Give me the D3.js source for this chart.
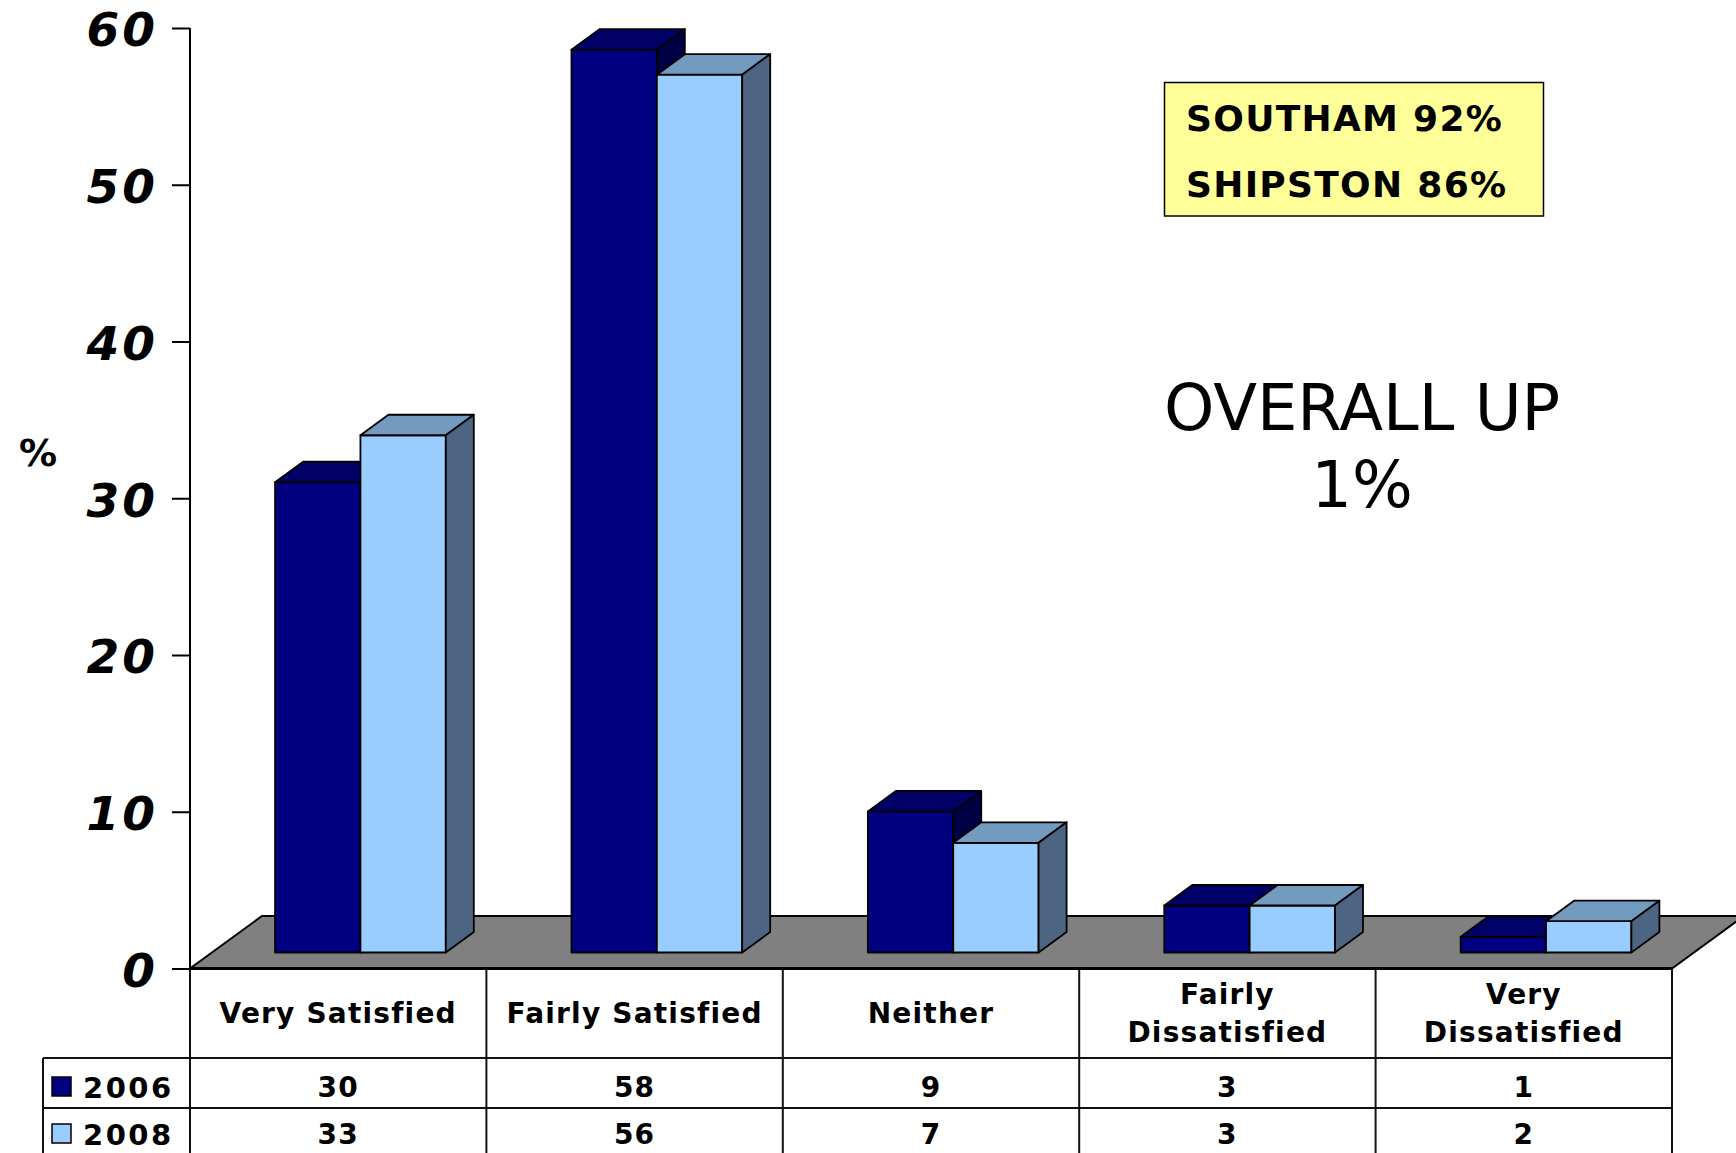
<!DOCTYPE html>
<html>
<head>
<meta charset="utf-8">
<script src="https://cdn.jsdelivr.net/npm/d3@7"></script>
<style>
body { margin: 0; background: #fff; }
svg text { font-family: "DejaVu Sans", Verdana, sans-serif; fill: #000; }
</style>
</head>
<body>
<svg id="chart" width="1736" height="1153"></svg>
<script>
// chart data
var categories = ["Very Satisfied", "Fairly Satisfied", "Neither", "Fairly Dissatisfied", "Very Dissatisfied"];
var headerLines = [["Very Satisfied"], ["Fairly Satisfied"], ["Neither"], ["Fairly", "Dissatisfied"], ["Very", "Dissatisfied"]];
var years = ["2006", "2008"];
var values2006 = [30, 57.6, 9, 3, 1];
var values2008 = [33, 56, 7, 3, 2];
var yTicks = [0, 10, 20, 30, 40, 50, 60];
var boxLines = ["SOUTHAM 92%", "SHIPSTON 86%"];
var noteLines = ["OVERALL UP", "1%"];

var series = [values2006, values2008];
var shades = [
    { front: "#000080", top: "#000066", side: "#000045" },
    { front: "#99ccff", top: "#739abf", side: "#4d6482" }
];

var svg = d3.select("#chart");
var x = d3.scaleBand().domain(categories).range([190, 1672]);
var y = d3.scaleLinear().domain([0, 60]).range([968.5, 28]);
var bw = x.bandwidth();
var y0 = y(0);

// floor depth and bar depth (oblique projection)
var floorDx = 72, floorDy = 52.5;
var barLift = 16, barDx = 28, barDy = 20.5;

var line = function(pts) { return "M" + pts.map(function(p) { return p.join(","); }).join("L") + "Z"; };

svg.append("path")
    .attr("d", line([[x.range()[0], y0], [x.range()[1], y0], [x.range()[1] + floorDx, y0 - floorDy], [x.range()[0] + floorDx, y0 - floorDy]]))
    .attr("fill", "#808080")
    .attr("stroke", "#000")
    .attr("stroke-width", 2);

// bars
categories.forEach(function(cat, i) {
    series.forEach(function(vals, s) {
        var w = bw * 0.288;
        var x0 = x(cat) + bw * 0.287 + s * w;
        var x1 = x0 + w;
        var yt = y(vals[i]) - barLift;
        var yb = y0 - barLift;
        var g = svg.append("g")
            .attr("stroke", "#000")
            .attr("stroke-width", 1.8)
            .attr("stroke-linejoin", "round");
        g.append("path").attr("d", line([[x0, yt], [x1, yt], [x1, yb], [x0, yb]])).attr("fill", shades[s].front);
        g.append("path").attr("d", line([[x0, yt], [x1, yt], [x1 + barDx, yt - barDy], [x0 + barDx, yt - barDy]])).attr("fill", shades[s].top);
        g.append("path").attr("d", line([[x1, yt], [x1 + barDx, yt - barDy], [x1 + barDx, yb - barDy], [x1, yb]])).attr("fill", shades[s].side);
    });
});

// y axis
var axis = svg.append("g")
    .attr("transform", "translate(190,0)")
    .call(d3.axisLeft(y).tickValues(yTicks).tickSize(18).tickSizeOuter(0).tickPadding(14));
axis.select(".domain").remove();
axis.selectAll(".tick line").attr("stroke", "#000").attr("stroke-width", 2);
axis.selectAll(".tick text")
    .attr("dy", "0.38em")
    .style("font-size", "47px")
    .style("font-weight", "bold")
    .style("font-style", "italic")
    .style("letter-spacing", "3px");

svg.append("line")
    .attr("x1", 190).attr("x2", 190)
    .attr("y1", y(60)).attr("y2", 1153)
    .attr("stroke", "#000").attr("stroke-width", 2);

svg.append("text")
    .attr("x", 38).attr("y", 466)
    .attr("text-anchor", "middle")
    .style("font-size", "38px")
    .style("font-weight", "bold")
    .text("%");

// data table under the chart
var rowTops = [1058, 1108];
var rowBase = [1097, 1144];
var tableLines = svg.append("g").attr("stroke", "#111").attr("stroke-width", 2);
categories.concat([null]).forEach(function(cat) {
    var xx = cat ? x(cat) : x.range()[1];
    tableLines.append("line").attr("x1", xx).attr("x2", xx).attr("y1", y0).attr("y2", 1153);
});
tableLines.append("line").attr("x1", 43).attr("x2", 43).attr("y1", rowTops[0]).attr("y2", 1153);
rowTops.forEach(function(t) {
    tableLines.append("line").attr("x1", 43).attr("x2", x.range()[1]).attr("y1", t).attr("y2", t);
});
svg.append("line")
    .attr("x1", x.range()[0]).attr("x2", x.range()[1])
    .attr("y1", y0).attr("y2", y0)
    .attr("stroke", "#000").attr("stroke-width", 3);

var cellText = function(sel) {
    return sel.attr("text-anchor", "middle")
        .style("font-size", "28px")
        .style("font-weight", "bold")
        .style("letter-spacing", "1.2px");
};

categories.forEach(function(cat, i) {
    var cx = x(cat) + bw / 2;
    var ls = headerLines[i];
    ls.forEach(function(t, j) {
        cellText(svg.append("text"))
            .attr("x", cx)
            .attr("y", 1023 + (j - (ls.length - 1) / 2) * 38)
            .text(t);
    });
    series.forEach(function(vals, s) {
        cellText(svg.append("text"))
            .attr("x", cx)
            .attr("y", rowBase[s])
            .text(d3.format(".0f")(vals[i]));
    });
});

years.forEach(function(yr, s) {
    svg.append("rect")
        .attr("x", 52).attr("y", rowBase[s] - 20)
        .attr("width", 19).attr("height", 19)
        .attr("fill", shades[s].front)
        .attr("stroke", "#000").attr("stroke-width", 1.5);
    svg.append("text")
        .attr("x", 83).attr("y", rowBase[s] + 1)
        .style("font-size", "29px")
        .style("font-weight", "bold")
        .style("letter-spacing", "2.5px")
        .text(yr);
});

// annotation box
svg.append("rect")
    .attr("x", 1164.5).attr("y", 82.5)
    .attr("width", 379).attr("height", 133.5)
    .attr("fill", "#ffff99")
    .attr("stroke", "#000").attr("stroke-width", 1.5);
boxLines.forEach(function(t, i) {
    svg.append("text")
        .attr("x", 1186).attr("y", 131 + i * 66)
        .style("font-size", "36px")
        .style("font-weight", "bold")
        .style("letter-spacing", "1.3px")
        .text(t);
});

noteLines.forEach(function(t, i) {
    svg.append("text")
        .attr("x", 1362).attr("y", 430 + i * 77)
        .attr("text-anchor", "middle")
        .style("font-size", "64px")
        .text(t);
});
</script>
</body>
</html>
